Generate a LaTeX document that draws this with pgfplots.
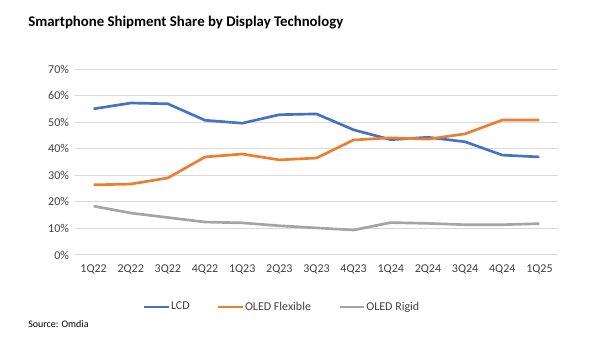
\documentclass[border=0pt]{standalone}
\usepackage{pgfplots}
\pgfplotsset{compat=1.18}
\usepackage{fontspec}
\setmainfont{Carlito}
\definecolor{lcd}{HTML}{4472C4}
\definecolor{flex}{HTML}{ED7D31}
\definecolor{rigid}{HTML}{A5A5A5}
\definecolor{gridc}{HTML}{D9D9D9}
\definecolor{txt}{HTML}{404040}
\begin{document}
\begin{tikzpicture}
\path[use as bounding box] (0pt,0pt) rectangle (450pt,267.75pt);
\node[anchor=base west,font=\fontsize{11.1}{13}\selectfont\bfseries,inner sep=0pt] at (21pt,247.5pt) {Smartphone Shipment Share by Display Technology};
\node[anchor=base west,font=\fontsize{7.5}{9}\selectfont,inner sep=0pt] at (21pt,22pt) {Source: Omdia};
\begin{axis}[
  at={(56.25pt,76.5pt)}, anchor=south west,
  scale only axis, width=362.25pt, height=139.5pt,
  xmin=-0.5, xmax=12.5, ymin=0, ymax=70,
  xtick={0,...,12},
  xticklabels={1Q22,2Q22,3Q22,4Q22,1Q23,2Q23,3Q23,4Q23,1Q24,2Q24,3Q24,4Q24,1Q25},
  ytick={0,10,...,70},
  yticklabel={\pgfmathprintnumber{\tick}\%},
  /pgf/number format/assume math mode=true,
  axis line style={draw=none},
  major tick length=0pt,
  ymajorgrids, xmajorgrids=false, grid style={draw=gridc, line width=0.75pt},
  tick label style={font=\fontsize{9}{11}\selectfont, text=txt},
  xticklabel style={yshift=-4pt},
  yticklabel style={xshift=-1pt},
  legend columns=3,
  legend style={draw=none, fill=none, at={(0.4275,-0.28)}, anchor=center,
    font=\fontsize{9}{11}\selectfont, text=txt,
    nodes={inner xsep=0.5pt},
    /tikz/every odd column/.append style={column sep=0pt},
    /tikz/every even column/.append style={column sep=20pt}},
  legend image code/.code={\draw[#1, line width=2pt] (0pt,0pt) -- (18.5pt,0pt);},
  every axis plot/.append style={line width=2pt, line join=round},
]
\addplot[lcd] coordinates {(0,55.0) (1,57.2) (2,56.9) (3,50.7) (4,49.6) (5,52.8) (6,53.1) (7,47.1) (8,43.4) (9,44.3) (10,42.6) (11,37.6) (12,36.9)};
\addplot[flex] coordinates {(0,26.4) (1,26.7) (2,29.0) (3,36.9) (4,38.0) (5,35.8) (6,36.5) (7,43.3) (8,44.1) (9,43.6) (10,45.6) (11,50.8) (12,50.8)};
\addplot[rigid] coordinates {(0,18.4) (1,15.8) (2,14.1) (3,12.4) (4,12.1) (5,11.0) (6,10.2) (7,9.4) (8,12.2) (9,11.9) (10,11.4) (11,11.4) (12,11.8)};
\legend{LCD,OLED Flexible,OLED Rigid}
\end{axis}
\end{tikzpicture}
\end{document}
